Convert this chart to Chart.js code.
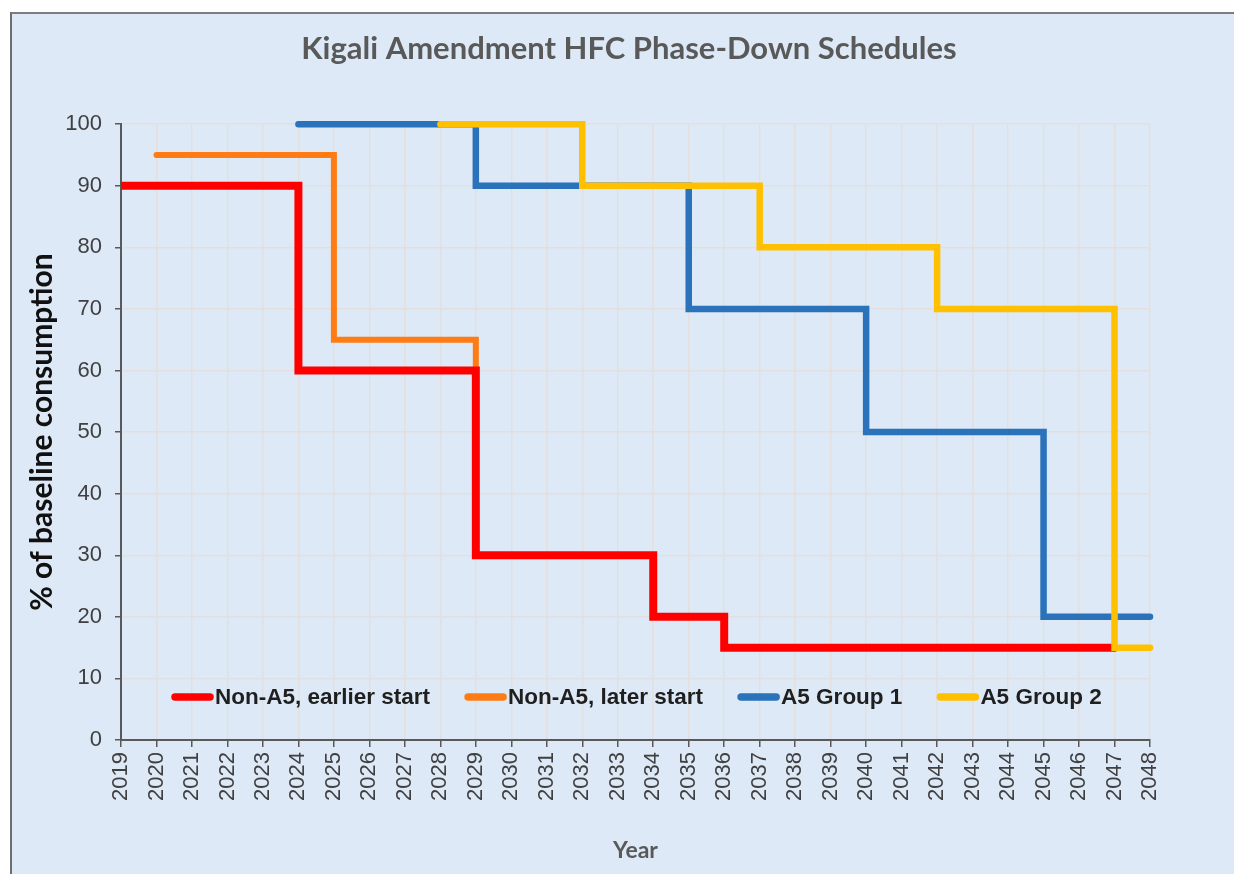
<!DOCTYPE html>
<html>
<head>
<meta charset="utf-8">
<script src="https://cdn.jsdelivr.net/npm/chart.js@4.4.0/dist/chart.umd.min.js"></script>
<style>
html, body { margin: 0; padding: 0; background: #ffffff; }
#panel { position: absolute; left: 10px; top: 12px; right: 0; bottom: 0; background: #dde9f6; border-left: 2px solid #6e6e6e; border-top: 2px solid #7d7d7d; }
#wrap { position: absolute; left: 0; top: 0; width: 1234px; height: 874px; }
</style>
</head>
<body>
<div id="panel"></div>
<div id="wrap"><canvas id="phaseChart"></canvas></div>
<script>
// x axis tick labels
const years = ['2019','2020','2021','2022','2023','2024','2025','2026','2027','2028',
               '2029','2030','2031','2032','2033','2034','2035','2036','2037','2038',
               '2039','2040','2041','2042','2043','2044','2045','2046','2047','2048'];

// step points: year where a level starts, and the level (% of baseline)
const earlyYears = ['2019','2024','2029','2034','2036','2047'];
const earlyVals  = [90, 60, 30, 20, 15, 15];

const laterYears = ['2020','2025','2029'];
const laterVals  = [95, 65, 60];

const group1Years = ['2024','2029','2035','2040','2045','2048'];
const group1Vals  = [100, 90, 70, 50, 20, 20];

const group2Years = ['2028','2032','2037','2042','2047','2048'];
const group2Vals  = [100, 90, 80, 70, 15, 15];

const seriesNames = ['Non-A5, earlier start', 'Non-A5, later start', 'A5 Group 1', 'A5 Group 2'];

function toPoints(xs, ys) {
    return xs.map((x, i) => ({ x: x, y: ys[i] }));
}

const tickFont = "'Liberation Sans', Arial, sans-serif";
const titleFont = "Lato, 'Open Sans', sans-serif";
const legendRowValue = 7;

// legend drawn inside the plot area, near the bottom
const insideLegend = {
    id: 'insideLegend',
    afterDraw(chart) {
        const ctx = chart.ctx;
        const y = chart.scales.y.getPixelForValue(legendRowValue);
        let x = chart.chartArea.left + 50;
        ctx.save();
        ctx.font = 'bold 22.5px ' + tickFont;
        ctx.textBaseline = 'middle';
        ctx.textAlign = 'left';
        chart.data.datasets.forEach(ds => {
            ctx.strokeStyle = ds.borderColor;
            ctx.lineWidth = 7.5;
            ctx.lineCap = 'round';
            ctx.beginPath();
            ctx.moveTo(x + 4, y);
            ctx.lineTo(x + 39, y);
            ctx.stroke();
            ctx.fillStyle = '#1f1f1f';
            ctx.fillText(ds.label, x + 44, y + 1);
            x += 44 + ctx.measureText(ds.label).width + 34;
        });
        ctx.restore();
    }
};

const lineStyle = { stepped: true, pointRadius: 0, borderCapStyle: 'round', borderJoinStyle: 'miter', fill: false,
                    clip: { left: 0, top: 8, right: 8, bottom: 8 } };

new Chart('phaseChart', {
    type: 'line',
    data: {
        labels: years,
        datasets: [
            Object.assign({ label: seriesNames[0], data: toPoints(earlyYears, earlyVals), borderColor: '#ff0000', borderWidth: 8, order: 2 }, lineStyle),
            Object.assign({ label: seriesNames[1], data: toPoints(laterYears, laterVals), borderColor: '#ff7c14', borderWidth: 6, order: 3 }, lineStyle),
            Object.assign({ label: seriesNames[2], data: toPoints(group1Years, group1Vals), borderColor: '#2a72b9', borderWidth: 6.5, order: 1 }, lineStyle),
            Object.assign({ label: seriesNames[3], data: toPoints(group2Years, group2Vals), borderColor: '#ffc000', borderWidth: 6.5, order: 0 }, lineStyle)
        ]
    },
    options: {
        responsive: true,
        maintainAspectRatio: false,
        devicePixelRatio: 1,
        animation: false,
        layout: { padding: { left: 24, right: 0, top: 0, bottom: 0 } },
        plugins: {
            legend: { display: false },
            tooltip: { enabled: false },
            title: {
                display: true,
                text: 'Kigali Amendment HFC Phase-Down Schedules',
                color: '#595959',
                font: { family: titleFont, size: 31, weight: 'bold' },
                padding: { top: 30, bottom: 57 }
            }
        },
        scales: {
            x: {
                type: 'category',
                grid: { color: '#e4dfdf', lineWidth: 1.5, tickColor: '#595959', tickLength: 7 },
                border: { color: '#595959', width: 2 },
                ticks: {
                    color: '#404040',
                    font: { family: tickFont, size: 22 },
                    minRotation: 90,
                    maxRotation: 90,
                    autoSkip: false,
                    padding: 5
                },
                title: {
                    display: true,
                    text: 'Year',
                    color: '#595959',
                    font: { family: titleFont, size: 23, weight: 'bold' },
                    padding: { top: 0, bottom: 10 }
                },
                afterFit(scale) { scale.height = 134; }
            },
            y: {
                min: 0,
                max: 100,
                grid: { color: '#e4dfdf', lineWidth: 1.5, tickColor: '#595959', tickLength: 6 },
                border: { color: '#595959', width: 2 },
                ticks: {
                    stepSize: 10,
                    color: '#404040',
                    font: { family: tickFont, size: 22 },
                    padding: 13
                },
                title: {
                    display: true,
                    text: '% of baseline consumption',
                    color: '#111111',
                    font: { family: titleFont, size: 30, weight: 'bold' },
                    padding: { top: 0, bottom: 0 }
                },
                afterFit(scale) { scale.width = 97; }
            },
            spacer: {
                type: 'linear',
                position: 'right',
                grid: { display: false, drawTicks: false },
                border: { display: false },
                ticks: { display: false },
                afterFit(scale) { scale.width = 84; }
            }
        }
    },
    plugins: [insideLegend]
});
</script>
</body>
</html>
